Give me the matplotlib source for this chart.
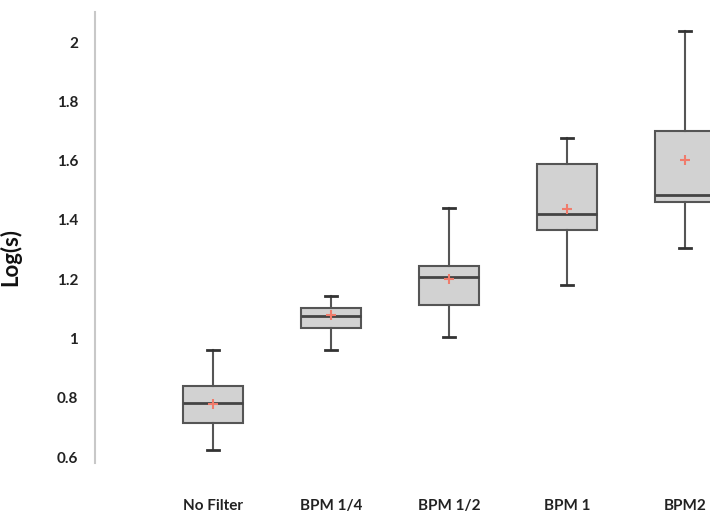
import matplotlib
matplotlib.use('Agg')
import matplotlib.pyplot as plt

# values
labels = ['No Filter', 'BPM 1/4', 'BPM 1/2', 'BPM 1', 'BPM2']
whislo = [0.624, 0.961, 1.006, 1.180, 1.304]
q1 = [0.714, 1.036, 1.113, 1.366, 1.461]
med = [0.781, 1.077, 1.206, 1.420, 1.484]
q3 = [0.841, 1.102, 1.245, 1.587, 1.700]
whishi = [0.961, 1.144, 1.441, 1.677, 2.037]
means = [0.780, 1.080, 1.200, 1.436, 1.602]

stats = []
for i in range(len(labels)):
    stats.append({'label': labels[i], 'whislo': whislo[i], 'q1': q1[i], 'med': med[i],
                  'q3': q3[i], 'whishi': whishi[i], 'mean': means[i], 'fliers': []})

fig = plt.figure(figsize=(7.1, 5.15), dpi=100)
ax = fig.add_axes([95 / 710, 0.101, 1 - 95 / 710, 0.875])

ax.bxp(stats, positions=range(1, 6), widths=0.51, capwidths=0.1,
       patch_artist=True, showmeans=True,
       boxprops=dict(facecolor='#d2d2d2', edgecolor='#555555', linewidth=1.5),
       medianprops=dict(color='#444444', linewidth=2),
       whiskerprops=dict(color='#555555', linewidth=1.5),
       capprops=dict(color='#333333', linewidth=2),
       meanprops=dict(marker='+', markeredgecolor='#f07c6c', markersize=7, markeredgewidth=1.5))

ax.set_xlim(0, 615 / 118)
ax.set_ylim(0.58, 2.1)
ax.set_yticks([0.6, 0.8, 1.0, 1.2, 1.4, 1.6, 1.8, 2.0])
ax.set_yticklabels(['0.6', '0.8', '1', '1.2', '1.4', '1.6', '1.8', '2'])

for s in ['top', 'right', 'bottom']:
    ax.spines[s].set_visible(False)
ax.spines['left'].set_color('#c8c8c8')
ax.spines['left'].set_linewidth(1.5)

ax.tick_params(axis='y', length=0, pad=12, labelsize=11, colors='#222222')
ax.tick_params(axis='x', length=0, pad=26, labelsize=11, colors='#222222')
for t in ax.get_xticklabels() + ax.get_yticklabels():
    t.set_fontfamily('Lato')
    t.set_fontweight('bold')

ax.set_ylabel('Log(s)', fontsize=16, fontweight='bold', family='Lato', color='#111111')
ax.yaxis.set_label_coords(-0.12, 0.457)

fig.savefig('out.png', dpi=100)
